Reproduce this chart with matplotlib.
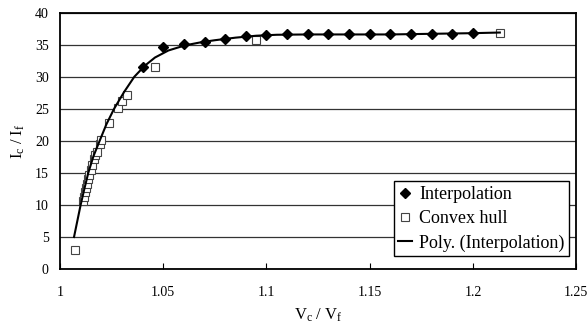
import matplotlib
matplotlib.use("Agg")
import matplotlib.pyplot as plt

plt.rcParams['font.family'] = ['Liberation Serif', 'DejaVu Serif']
plt.rcParams['mathtext.fontset'] = 'custom'
plt.rcParams['mathtext.rm'] = 'Liberation Serif'
plt.rcParams['mathtext.it'] = 'Liberation Serif:italic'

# Interpolation (filled diamonds)
interp_x = [1.04, 1.05, 1.06, 1.07, 1.08, 1.09, 1.10, 1.11, 1.12, 1.13,
            1.14, 1.15, 1.16, 1.17, 1.18, 1.19, 1.20]
interp_y = [31.5, 34.6, 35.1, 35.5, 35.9, 36.3, 36.5, 36.6, 36.6, 36.6,
            36.6, 36.6, 36.6, 36.6, 36.7, 36.7, 36.8]

# Convex hull (open squares)
hull_x = [1.0071, 1.0110, 1.0115, 1.0120, 1.0125, 1.0130, 1.0135, 1.0140,
          1.0148, 1.0155, 1.0163, 1.0170, 1.0178, 1.0194, 1.0200, 1.0237,
          1.0282, 1.0298, 1.0323, 1.0460, 1.0948, 1.2130]
hull_y = [2.9, 10.6, 11.3, 12.0, 12.6, 13.3, 14.0, 14.7,
          15.5, 16.3, 17.1, 17.8, 18.3, 19.5, 20.2, 22.8,
          25.2, 26.2, 27.1, 31.6, 35.8, 36.9]

# Poly. (Interpolation) trendline
poly_x = [1.0068, 1.0084, 1.0100, 1.0118, 1.0137, 1.0162, 1.0192, 1.0225,
          1.0262, 1.0310, 1.0360, 1.0410, 1.0460, 1.0525, 1.0606, 1.0686,
          1.0750, 1.0850, 1.0950, 1.1050, 1.1200, 1.1400, 1.1600, 1.1800,
          1.2000, 1.2130]
poly_y = [5.0, 7.5, 10.0, 12.5, 15.0, 17.6, 20.0, 22.6,
          25.0, 27.6, 30.0, 31.7, 33.0, 34.1, 34.9, 35.4,
          35.7, 36.1, 36.4, 36.55, 36.6, 36.6, 36.6, 36.7,
          36.8, 36.9]

fig = plt.figure(figsize=(5.88, 3.33), dpi=100)
ax = fig.add_axes([0.102, 0.192, 0.878, 0.770])

ax.plot(interp_x, interp_y, linestyle='none', marker='D', ms=5.5,
        color='black', label='Interpolation', zorder=3)
ax.plot(hull_x, hull_y, linestyle='none', marker='s', ms=6.2,
        mfc='white', mec='#444444', mew=0.8, label='Convex hull', zorder=3)
ax.plot(poly_x, poly_y, color='black', lw=1.5,
        label='Poly. (Interpolation)', zorder=4)

ax.set_xlim(1, 1.25)
ax.set_ylim(0, 40)
ax.set_xticks([1, 1.05, 1.1, 1.15, 1.2, 1.25])
ax.set_xticklabels(['1', '1.05', '1.1', '1.15', '1.2', '1.25'])
ax.set_yticks(range(0, 41, 5))
ax.yaxis.grid(True, color='#333333', lw=0.9)
ax.set_axisbelow(True)
ax.tick_params(axis='x', direction='in', length=4, pad=12, labelsize=10)
ax.tick_params(axis='y', length=0, pad=8, labelsize=10)
for s in ax.spines.values():
    s.set_linewidth(1.3)

ax.set_xlabel(r'$\mathregular{V_c\ /\ V_f}$', fontsize=12, labelpad=6)
ax.set_ylabel(r'$\mathregular{I_c\ /\ I_f}$', fontsize=12, labelpad=6)

leg = ax.legend(loc='lower right', bbox_to_anchor=(0.986, 0.05),
                fontsize=13, frameon=True, fancybox=False,
                edgecolor='black', framealpha=1, handlelength=0.75,
                handletextpad=0.4, borderpad=0.25, labelspacing=0.4,
                borderaxespad=0)
leg.get_frame().set_linewidth(1.0)

fig.savefig('out.png', dpi=100)
